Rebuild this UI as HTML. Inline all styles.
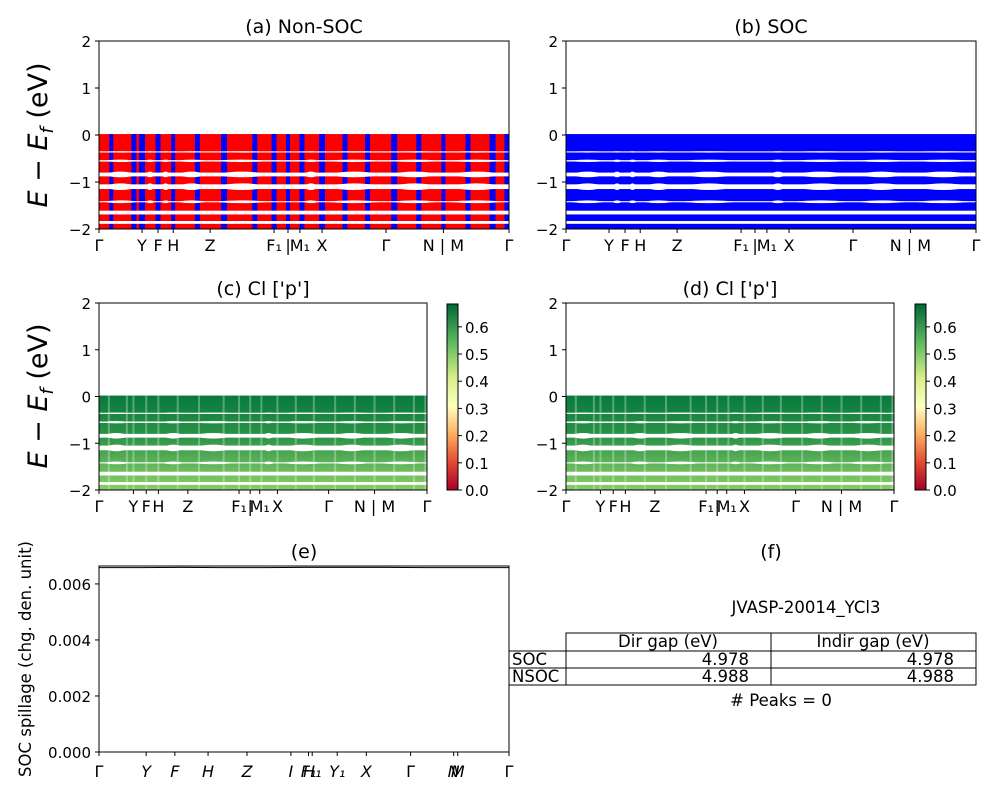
<!DOCTYPE html>
<html><head><meta charset="utf-8"><style>
body{margin:0;background:#fff}
svg{display:block;font-family:"DejaVu Sans","Liberation Sans",sans-serif}
</style></head><body>
<svg id="fig" width="1000" height="800" viewBox="0 0 1000 800" xmlns="http://www.w3.org/2000/svg">
<defs>
<linearGradient id="cmap" x1="0" y1="1" x2="0" y2="0">
<stop offset="0" stop-color="#a50026"/><stop offset="0.15" stop-color="#e34a33"/><stop offset="0.3" stop-color="#fdae61"/><stop offset="0.45" stop-color="#ffffbf"/><stop offset="0.6" stop-color="#d9ef8b"/><stop offset="0.78" stop-color="#66bd63"/><stop offset="1" stop-color="#006837"/>
</linearGradient>
<linearGradient id="greenE" x1="0" y1="0" x2="0" y2="1">
<stop offset="0" stop-color="#077a3c"/><stop offset="0.45" stop-color="#2f9448"/><stop offset="0.8" stop-color="#6dbd5e"/><stop offset="1" stop-color="#86cb66"/>
</linearGradient>
</defs>
</svg>
<script>
// ---- data ----
const kLabelsA = ["Γ","Y","F","H","Z","F₁","|","M₁","X","Γ","N | M","Γ"];
const kFracA = [0,0.105,0.144,0.181,0.271,0.427,0.461,0.49,0.544,0.70,0.84,1];
const kLabelsE = ["Γ","Y","F","H","Z","I","F₁","H₁","Y₁","X","Γ","N","M","Γ"];
const kFracE = [0,0.115,0.185,0.266,0.361,0.468,0.511,0.52,0.581,0.652,0.76,0.865,0.875,1];
const energyTicks = [-2,-1,0,1,2];
const valenceTop = 0.02, valenceBottom = -2.0;
const gapE = [-0.36,-0.55,-0.84,-1.1,-1.42,-1.65,-1.86];
const gapW = [0.012,0.015,0.04,0.05,0.012,0.04,0.03];
const lensH = [0.03,0.05,0.12,0.14,0.06,0.02,0.02];
const stripeFrac = [0.03,0.085,0.105,0.144,0.181,0.24,0.305,0.38,0.427,0.461,0.495,0.544,0.6,0.655,0.72,0.78,0.84,0.9,0.96,0.995];
const stripeW = [4,5,6,5,4,5,6,5,5,4,5,6,5,5,6,5,4,5,6,5];
const cbTicks = [0.0,0.1,0.2,0.3,0.4,0.5,0.6];
const cbMax = 0.684;
const spillK = [0,0.1,0.2,0.3,0.4,0.5,0.6,0.7,0.8,0.9,1];
const spillV = [0.00658,0.00658,0.00659,0.00658,0.00658,0.00659,0.00659,0.00659,0.00658,0.00658,0.00658];
const spillTicks = [0,0.002,0.004,0.006];
const spillMax = 0.00664;
const tableRows = ["SOC","NSOC"];
const dirGap = ["4.978","4.988"];
const indirGap = ["4.978","4.988"];

const svg = document.getElementById('fig');
const NS = "http://www.w3.org/2000/svg";
function el(tag, attrs, parent){const e=document.createElementNS(NS,tag);for(const k in attrs)e.setAttribute(k,attrs[k]);(parent||svg).appendChild(e);return e;}
function txt(s,x,y,size,anchor,parent,extra){const t=el('text',Object.assign({x:x,y:y,'font-size':size,'text-anchor':anchor||'middle',fill:'#000'},extra||{}),parent);t.textContent=s;return t;}

function panel(name,x0,y0,w,h,kind,labels,fracs,title){
  const g=el('g',{});
  
  
  const ys=e=>y0+(2-e)/4*h, xs=f=>x0+f*w;
  const clipId='c'+name;
  const cp=el('clipPath',{id:clipId},g);el('rect',{x:x0,y:y0,width:w,height:h},cp);
  const d=el('g',{'clip-path':`url(#${clipId})`},g);
  const fill = kind==='a'?'#f00':kind==='b'?'#00f':'url(#greenE)';
  const band=el('rect',{x:x0,y:ys(valenceTop),width:w,height:ys(valenceBottom)-ys(valenceTop),fill:fill},d);
  
  
  if(kind==='a'){stripeFrac.forEach((f,i)=>{const r=el('rect',{x:xs(f)-stripeW[i]/2,y:ys(valenceTop),width:stripeW[i],height:ys(valenceBottom)-ys(valenceTop),fill:'#00f'},d);
    
    });}
  if(kind==='c'){stripeFrac.forEach(f=>{el('rect',{x:xs(f)-1,y:ys(valenceTop),width:2,height:ys(valenceBottom)-ys(valenceTop),fill:'#fff',opacity:0.3},d);});}
  gapE.forEach((e,i)=>{const r=el('rect',{x:x0,y:ys(e+gapW[i]),width:w,height:ys(e-gapW[i])-ys(e+gapW[i]),fill:'#fff'},d);
    
    
    for(let j=0;j<fracs.length-1;j++){const xa=xs(fracs[j]),xb=xs(fracs[j+1]);if(xb-xa<15)continue;const ym=ys(e),hh=ys(e-lensH[i])-ys(e);
      el('path',{d:`M${xa+3},${ym} Q${(xa+xb)/2},${ym-hh} ${xb-3},${ym} Q${(xa+xb)/2},${ym+hh} ${xa+3},${ym}Z`,fill:'#fff'},d);}
  });
  el('rect',{x:x0,y:y0,width:w,height:h,fill:'none',stroke:'#000','stroke-width':1},g);
  energyTicks.forEach(e=>{el('line',{x1:x0-4,x2:x0,y1:ys(e),y2:ys(e),stroke:'#000'},g);txt(e<0?'−'+(-e):String(e),x0-8,ys(e)+6,15,'end',g);});
  labels.forEach((l,i)=>{el('line',{x1:xs(fracs[i]),x2:xs(fracs[i]),y1:y0+h,y2:y0+h+4,stroke:'#000'},g);
    const t=txt(l,xs(fracs[i]),y0+h+22,16,'middle',g);});
  const tt=txt(title,x0+w/2,y0-8,19,'middle',g);
}
panel('panel-a-non-soc',99,41,410,188,'a',kLabelsA,kFracA,'(a) Non-SOC');
panel('panel-b-soc',566,41,410,188,'b',kLabelsA,kFracA,'(b) SOC');
panel('panel-c-cl-p',99,303,328,187,'c',kLabelsA,kFracA,"(c)  Cl ['p']");
panel('panel-d-cl-p',566,303,328,187,'c',kLabelsA,kFracA,"(d) Cl ['p']");

function ylab(y){const t=txt('',47,y,27,'middle',svg,{transform:`rotate(-90 47 ${y})`});t.innerHTML='<tspan font-style="italic">E</tspan> − <tspan font-style="italic">E</tspan><tspan font-style="italic" font-size="18" dy="6">f</tspan><tspan dy="-6"> (eV)</tspan>';}
ylab(135);ylab(396);

function colorbar(x,name){const g=el('g',{});
  const y0=304,h=186;el('rect',{x:x,y:y0,width:11,height:h,fill:'url(#cmap)',stroke:'#000'},g);
  cbTicks.forEach(v=>{const y=y0+h-v/cbMax*h;el('line',{x1:x+11,x2:x+15,y1:y,y2:y,stroke:'#000'},g);txt(v.toFixed(1),x+18,y+6,15,'start',g);});}
colorbar(447,'colorbar-c');colorbar(915,'colorbar-d');

(function(){const g=el('g',{});
  const x0=99,y0=566,w=410,h=186;const xs=f=>x0+f*w,ys=v=>y0+h-v/spillMax*h;
  el('rect',{x:x0,y:y0,width:w,height:h,fill:'none',stroke:'#000'},g);
  const line=el('polyline',{points:spillK.map((k,i)=>xs(k)+','+ys(spillV[i])).join(' '),fill:'none',stroke:'#000','stroke-width':1},g);
  
  spillTicks.forEach(v=>{el('line',{x1:x0-4,x2:x0,y1:ys(v),y2:ys(v),stroke:'#000'},g);txt(v.toFixed(3),x0-8,ys(v)+6,15,'end',g);});
  kLabelsE.forEach((l,i)=>{el('line',{x1:xs(kFracE[i]),x2:xs(kFracE[i]),y1:y0+h,y2:y0+h+4,stroke:'#000'},g);
    const t=txt(l,xs(kFracE[i]),y0+h+25,16,'middle',g,{'font-style':l==='Γ'?'normal':'italic'});});
  txt('(e)',x0+w/2,y0-8,19,'middle',g);
  const yl=txt('SOC spillage (chg. den. unit)',31,659,16.5,'middle',g,{transform:'rotate(-90 31 659)'});
})();

(function(){const g=el('g',{});
  txt('(f)',771,558,19,'middle',g);
  txt('JVASP-20014_YCl3',806,613,16.5,'middle',g);
  const s={fill:'none',stroke:'#000','stroke-width':1};
  el('rect',Object.assign({x:566,y:633,width:205,height:18},s),g);el('rect',Object.assign({x:771,y:633,width:205,height:18},s),g);
  txt('Dir gap (eV)',668,647,16.5,'middle',g);txt('Indir gap (eV)',873,647,16.5,'middle',g);
  tableRows.forEach((r,i)=>{const y=651+i*17;
    el('rect',Object.assign({x:509,y:y,width:57,height:17},s),g);el('rect',Object.assign({x:566,y:y,width:205,height:17},s),g);el('rect',Object.assign({x:771,y:y,width:205,height:17},s),g);
    txt(r,512,y+14,16.5,'start',g);txt(dirGap[i],749,y+14,16.5,'end',g);txt(indirGap[i],954,y+14,16.5,'end',g);});
  txt('# Peaks = 0',781,706,16.5,'middle',g);
})();
</script>
</body></html>
